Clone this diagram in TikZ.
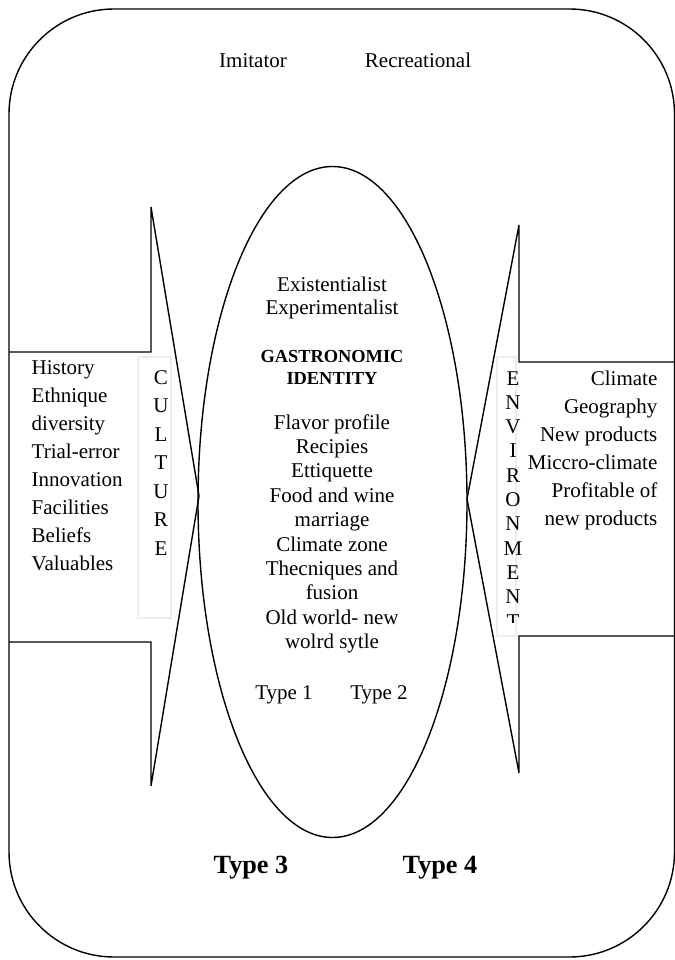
\documentclass[tikz,border=0pt]{standalone}
\usepackage{fontspec}
\setmainfont{Liberation Serif}
\usetikzlibrary{shapes.geometric}
\begin{document}
\begin{tikzpicture}[x=0.5714pt,y=-0.5714pt,line width=0.8pt,
  txt/.style={font=\fontsize{12}{14}\selectfont,inner sep=0pt},
  bhead/.style={font=\fontsize{10.5}{12.6}\selectfont\bfseries,inner sep=0pt},
  bigtype/.style={font=\fontsize{15}{18}\selectfont\bfseries,inner sep=0pt},
  faintbox/.style={draw=black!7,line width=0.6pt}]
\useasboundingbox (0,0) rectangle (675,960);
% outer frame
\draw[rounded corners=60pt] (9,9) rectangle (674.5,957);
% central ellipse
\node[draw,ellipse,inner sep=0pt,minimum width=153.7pt,minimum height=383.4pt] (core) at (332.5,502) {};
% left arrow
\draw (9,352) -- (151,352) -- (151,207) -- (199,496) -- (151,786) -- (151,642) -- (9,642);
% right arrow
\draw (675,362) -- (519,362) -- (519,225) -- (467,499) -- (519,773) -- (519,636) -- (675,636);
% faint text boxes
\draw[faintbox] (138,357) rectangle (171,618);
\draw[faintbox] (497,357) rectangle (516,636);
% top labels
\node[txt,anchor=mid] (imit) at (253,63) {Imitator};
\node[txt,anchor=mid] (recr) at (418,63) {Recreational};
% left list
\foreach \t [count=\i] in {History,Ethnique,diversity,Trial-error,Innovation,Facilities,Beliefs,Valuables}
  \node[txt,anchor=mid west] (l\i) at (31,{370+28.1*(\i-1)}) {\t};
% CULTURE
\foreach \t [count=\i] in {C,U,L,T,U,R,E}
  \node[txt,anchor=mid] (c\i) at (161,{380+28.5*(\i-1)}) {\t};
% ENVIRONMENT (clipped)
\begin{scope}
\clip (490,357) rectangle (540,622);
\foreach \t [count=\i] in {E,N,V,I,R,O,N,M,E,N,T}
  \node[txt,anchor=mid] (e\i) at (513,{381+24.3*(\i-1)}) {\t};
\end{scope}
% right list
\foreach \t [count=\i] in {Climate,Geography,New products,Miccro-climate,Profitable of,new products}
  \node[txt,anchor=mid east] (r\i) at (658,{381+28*(\i-1)}) {\t};
% ellipse content
\node[txt,anchor=mid] (ex1) at (332,287) {Existentialist};
\node[txt,anchor=mid] (ex2) at (332,310) {Experimentalist};
\node[bhead,anchor=mid] (g1) at (332,358) {GASTRONOMIC};
\node[bhead,anchor=mid] (g2) at (332,380) {IDENTITY};
\foreach \t [count=\i] in {Flavor profile,Recipies,Ettiquette,Food and wine,marriage,Climate zone,Thecniques and,fusion,Old world- new,wolrd sytle}
  \node[txt,anchor=mid] (f\i) at (332,{425+24.4*(\i-1)}) {\t};
\node[txt,anchor=mid] (t1) at (284,695) {Type 1};
\node[txt,anchor=mid] (t2) at (379,695) {Type 2};
\node[bigtype,anchor=mid] (t3) at (251,869) {Type 3};
\node[bigtype,anchor=mid] (t4) at (440,869) {Type 4};
\end{tikzpicture}
\end{document}
